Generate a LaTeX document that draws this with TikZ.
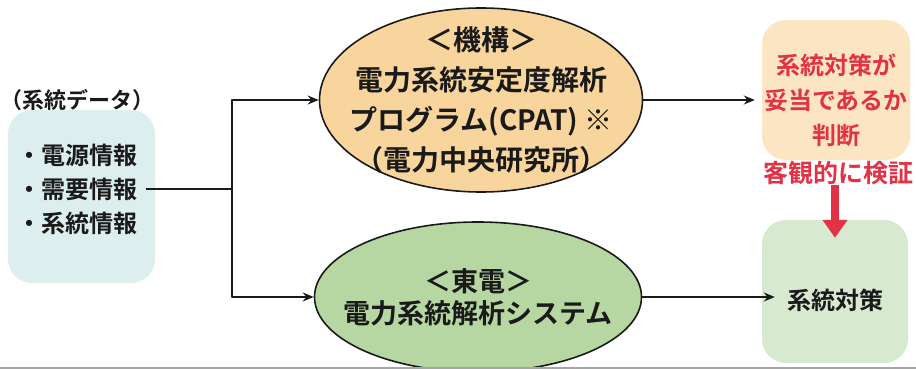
\documentclass[tikz,border=0pt]{standalone}
\usepackage{fontspec}
\setmainfont{Noto Sans CJK JP}[BoldFont={Noto Sans CJK JP Bold}]
\usetikzlibrary{shapes.geometric,arrows.meta}
\definecolor{ink}{HTML}{1A1A1A}
\definecolor{datafill}{HTML}{DCEEEE}
\definecolor{mechfill}{HTML}{F8D59C}
\definecolor{judgefill}{HTML}{FBE5C2}
\definecolor{tepcofill}{HTML}{B6D7A2}
\definecolor{measfill}{HTML}{D7EAD0}
\definecolor{alert}{HTML}{E23246}
\begin{document}
\begin{tikzpicture}[x=1pt,y=-1pt,>={Stealth[length=11pt,width=9pt]},line join=round,
	txt/.style={font=\bfseries\fontsize{24}{34}\selectfont,text=ink,align=center,inner sep=0pt},
	oval/.style={ellipse,draw=ink,line width=1.6pt,inner sep=0pt},
	panel/.style={rounded corners=24pt,inner sep=0pt},
	wire/.style={line width=1.6pt,draw=ink},
	link/.style={wire,->},
	redarr/.style={draw=alert,line width=8pt,-{Triangle[width=24pt,length=18pt]}}]
	\clip (0,0) rectangle (916,369);
	\node[txt,font=\bfseries\fontsize{22}{26}\selectfont] (dataLbl) at (78,100) {（系統データ）};
	\node[panel,fill=datafill,minimum width=147pt,minimum height=173pt] (data) at (81.5,196.5) {};
	\node[txt,align=left] (items) at (77,189) {・電源情報\\・需要情報\\・系統情報};
	\node[oval,fill=mechfill,minimum width=323pt,minimum height=184pt] (mech) at (481,100) {};
	\node[txt,font=\bfseries\fontsize{28}{40}\selectfont] (mechTxt) at (mech) {＜機構＞\\電力系統安定度解析\\プログラム(CPAT) ※\\（電力中央研究所）};
	\node[oval,fill=tepcofill,minimum width=327pt,minimum height=150pt] (tepco) at (478,297) {};
	\node[txt,font=\bfseries\fontsize{27}{32}\selectfont] (tepcoTxt) at (tepco) {＜東電＞\\電力系統解析システム};
	\node[panel,fill=judgefill,minimum width=148pt,minimum height=140pt] (judge) at (836,90) {};
	\node[txt,text=alert,font=\bfseries\fontsize{24}{35}\selectfont] (judgeTxt) at (836,100) {系統対策が\\妥当であるか\\判断};
	\node[txt,text=alert,font=\bfseries\fontsize{25}{30}\selectfont,anchor=west] (verify) at (763,173) {客観的に検証};
	\node[panel,fill=measfill,minimum width=146pt,minimum height=143pt] (measure) at (835,291.5) {};
	\node[txt] (measureTxt) at (835,300) {系統対策};
	\coordinate (split) at (232,189);
	\draw[wire] ([xshift=9pt]items.east) -- (split);
	\draw[link] (split) |- (mech.west);
	\draw[link] (split) |- (tepco.west);
	\draw[link,shorten >=7pt] (mech.east) -- (mech.east -| judge.west);
	\draw[link,shorten >=12pt] (tepco.east) -- (tepco.east -| measureTxt.west);
	\draw[redarr] (verify.south -| measure.north) -- ([yshift=-18pt]measure.north);
	\fill[gray!70] (0,366.5) rectangle (916,369);
\end{tikzpicture}
\end{document}
